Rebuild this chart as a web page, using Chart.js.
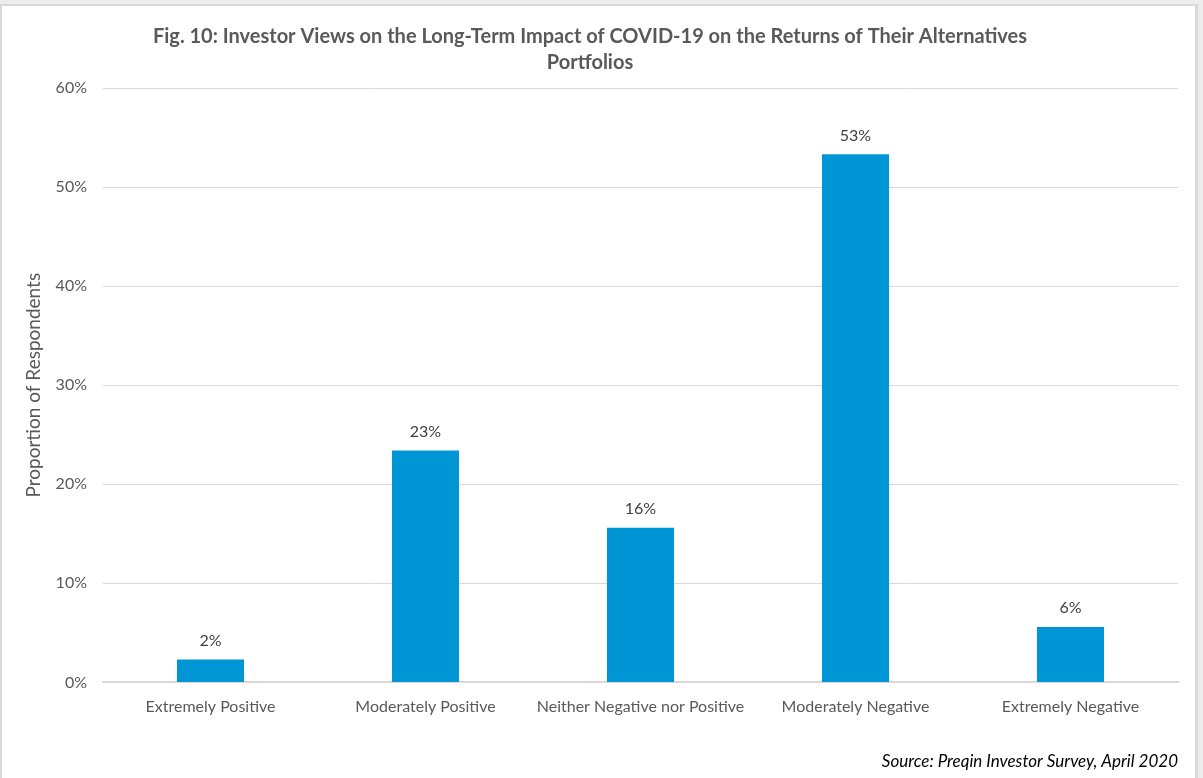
<!DOCTYPE html>
<html>
<head>
<meta charset="utf-8">
<script src="https://cdn.jsdelivr.net/npm/chart.js@4"></script>
<style>
  html, body { margin: 0; padding: 0; background: #ececec; }
  body { width: 1203px; height: 778px; overflow: hidden; position: relative; }
  #frame {
    position: absolute; left: 0; top: 4px; width: 1198px; height: 780px;
    background: #ffffff; border-left: 2px solid #d9d9d9; border-top: 2px solid #d9d9d9;
    border-right: 3px solid #d9d9d9; box-sizing: border-box;
  }
  #box { position: absolute; left: 2px; top: 6px; width: 1196px; height: 772px; }
</style>
</head>
<body>
<div id="frame"></div>
<div id="box"><canvas id="chart" width="1196" height="772"></canvas></div>
<script>
// Survey responses: share of investors per expected long-term impact
const categories = [
  'Extremely Positive',
  'Moderately Positive',
  'Neither Negative nor Positive',
  'Moderately Negative',
  'Extremely Negative'
];
const respondentShare = [2.3, 23.4, 15.6, 53.3, 5.6];
const yTicks = [0, 10, 20, 30, 40, 50, 60];

const titleLines = [
  'Fig. 10: Investor Views on the Long-Term Impact of COVID-19 on the Returns of Their Alternatives',
  'Portfolios'
];
const sourceNote = 'Source: Preqin Investor Survey, April 2020';

const BAR_BLUE = '#0096d6';
const GRID_GREY = '#d9d9d9';
const TEXT_GREY = '#595959';

// Percentage labels above each bar
const valueLabels = {
  id: 'valueLabels',
  afterDatasetsDraw(chart) {
    const ctx = chart.ctx;
    const meta = chart.getDatasetMeta(0);
    ctx.save();
    ctx.font = '16px Lato';
    ctx.fillStyle = '#404040';
    ctx.textAlign = 'center';
    ctx.textBaseline = 'middle';
    meta.data.forEach((bar, i) => {
      const v = chart.data.datasets[0].data[i];
      ctx.fillText(Math.round(v) + '%', bar.x, bar.y - 19);
    });
    ctx.restore();
  }
};

new Chart(document.getElementById('chart'), {
  type: 'bar',
  data: {
    labels: categories,
    datasets: [{
      data: respondentShare,
      backgroundColor: BAR_BLUE,
      borderWidth: 0,
      categoryPercentage: 1.0,
      barPercentage: 0.312
    }]
  },
  options: {
    responsive: false,
    animation: false,
    layout: { padding: { left: 0, right: 20, top: 0, bottom: 0 } },
    plugins: {
      legend: { display: false },
      tooltip: { enabled: false },
      title: {
        display: true,
        text: titleLines,
        color: '#595959',
        font: { family: 'Lato', size: 20, weight: 'bold', lineHeight: 1.3 },
        padding: { top: 18, bottom: 12 }
      },
      subtitle: {
        display: true,
        text: sourceNote,
        position: 'bottom',
        align: 'end',
        color: '#000000',
        font: { family: 'Lato', size: 17, style: 'italic', lineHeight: 1.2 },
        padding: { top: 20, bottom: 6 }
      }
    },
    scales: {
      x: {
        grid: { display: false, drawTicks: false },
        border: { display: true, color: GRID_GREY, width: 2 },
        ticks: {
          color: TEXT_GREY,
          font: { family: 'Lato', size: 16 },
          padding: 15,
          maxRotation: 0,
          autoSkip: false
        }
      },
      y: {
        min: 0,
        max: 60,
        afterBuildTicks(scale) {
          scale.ticks = yTicks.map(v => ({ value: v }));
        },
        afterFit(scale) { scale.width = 101; },
        grid: { color: GRID_GREY, lineWidth: 1, drawTicks: false },
        border: { display: false },
        ticks: {
          color: TEXT_GREY,
          font: { family: 'Lato', size: 16 },
          padding: 16,
          callback: v => v + '%'
        },
        title: {
          display: true,
          text: 'Proportion of Respondents',
          color: TEXT_GREY,
          font: { family: 'Lato', size: 19 },
          padding: { top: 20, bottom: 0 }
        }
      }
    }
  },
  plugins: [valueLabels]
});
</script>
</body>
</html>
